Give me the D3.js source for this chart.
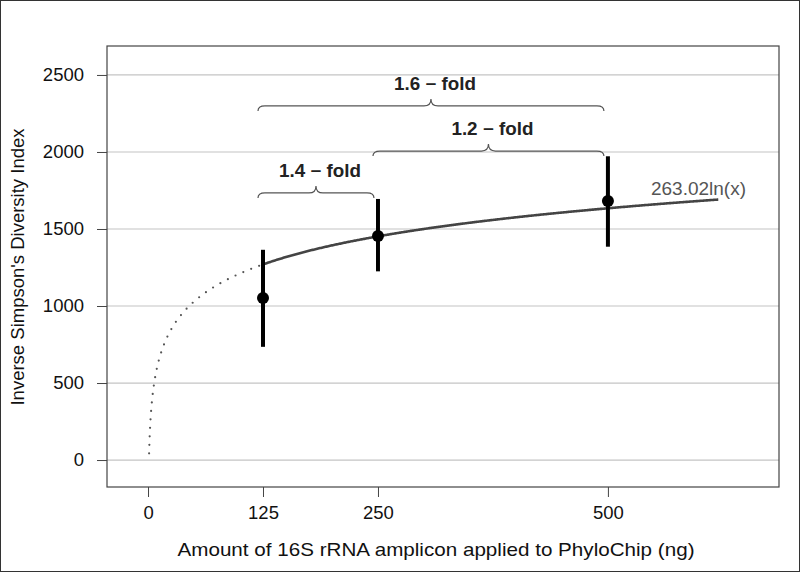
<!DOCTYPE html>
<html><head><meta charset="utf-8">
<script src="https://cdn.jsdelivr.net/npm/d3@7"></script>
<style>body{margin:0;background:#fff}text{font-family:"Liberation Sans",Arial,sans-serif}</style>
</head><body><svg id="c" width="800" height="572"></svg>
<script>
const amounts = [125, 250, 500];
const means = [1052, 1455, 1682];
const lows = [735, 1225, 1385];
const highs = [1365, 1695, 1972];
const xTicks = [0, 125, 250, 500];
const yTicks = [0, 500, 1000, 1500, 2000, 2500];
const coef = 263.02;
const braces = [
  {from:125, to:500, level:2299, label:"1.6 \u2212 fold"},
  {from:250, to:500, level:2006, label:"1.2 \u2212 fold"},
  {from:125, to:250, level:1734, label:"1.4 \u2212 fold"}
];

const svg = d3.select("#c");
svg.append("rect").attr("x",0.5).attr("y",0.5).attr("width",799).attr("height",571).attr("fill","#fff").attr("stroke","#333");
const L=107,R=779,T=46,B=487;
const x = d3.scaleLinear().domain([-44.6,686]).range([L,R]);
const y = d3.scaleLinear().domain([-175,2688]).range([B,T]);

// grid
svg.append("g").selectAll("line").data(yTicks).join("line")
  .attr("x1",L).attr("x2",R).attr("y1",d=>y(d)).attr("y2",d=>y(d))
  .attr("stroke","#c4c4c4").attr("stroke-width",1.2);

// axes
const ya = svg.append("g").attr("transform",`translate(${L},0)`)
  .call(d3.axisLeft(y).tickValues(yTicks).tickFormat(d3.format("d")).tickSize(10).tickPadding(13));
ya.select(".domain").remove();
ya.selectAll("line").attr("stroke","#444");
ya.selectAll("text").attr("font-size",18.5).attr("fill","#111").attr("font-family","Liberation Sans, Arial");
const xa = svg.append("g").attr("transform",`translate(0,${B})`)
  .call(d3.axisBottom(x).tickValues(xTicks).tickFormat(d3.format("d")).tickSize(10).tickPadding(9));
xa.select(".domain").remove();
xa.selectAll("line").attr("stroke","#444");
xa.selectAll("text").attr("font-size",18.5).attr("fill","#111").attr("font-family","Liberation Sans, Arial");

svg.append("rect").attr("x",L).attr("y",T).attr("width",R-L).attr("height",B-T)
  .attr("fill","none").attr("stroke","#444").attr("stroke-width",1.2);

// titles
svg.append("text").attr("x",436).attr("y",556).attr("text-anchor","middle")
  .attr("font-size",19).attr("textLength",517).attr("lengthAdjust","spacingAndGlyphs")
  .attr("fill","#111").text("Amount of 16S rRNA amplicon applied to PhyloChip (ng)");
svg.append("text").attr("transform","translate(24,267) rotate(-90)").attr("text-anchor","middle")
  .attr("font-size",18.5).attr("fill","#111").text("Inverse Simpson's Diversity Index");

// curve
const f = v => coef*Math.log(v);
const dotted = d3.range(1.18,125.01,0.2);
const solid = d3.range(125,621,1);
const line = d3.line().x(d=>x(d)).y(d=>y(f(d)));
svg.append("path").attr("d",line(dotted)).attr("fill","none").attr("stroke","#555")
  .attr("stroke-width",2.2).attr("stroke-linecap","round").attr("stroke-dasharray","0 8.5");
svg.append("path").attr("d",line(solid)).attr("fill","none").attr("stroke","#444").attr("stroke-width",2.6);
svg.append("text").attr("x",651).attr("y",195).attr("font-size",18).attr("textLength",95)
  .attr("lengthAdjust","spacingAndGlyphs").attr("fill","#555").text("263.02ln(x)");

// error bars & points
svg.append("g").selectAll("line").data(amounts).join("line")
  .attr("x1",d=>x(d)).attr("x2",d=>x(d)).attr("y1",(d,i)=>y(lows[i])).attr("y2",(d,i)=>y(highs[i]))
  .attr("stroke","#000").attr("stroke-width",4);
svg.append("g").selectAll("circle").data(amounts).join("circle")
  .attr("cx",d=>x(d)).attr("cy",(d,i)=>y(means[i])).attr("r",6).attr("fill","#000");

// braces
braces.forEach(b=>{
  const x1=x(b.from)-5,x2=x(b.to)-4,yy=y(b.level),m=(x1+x2)/2,h=5,r=7;
  const p=`M${x1},${yy+h} Q${x1},${yy} ${x1+r},${yy} L${m-r},${yy} Q${m},${yy} ${m},${yy-7} Q${m},${yy} ${m+r},${yy} L${x2-r},${yy} Q${x2},${yy} ${x2},${yy+h}`;
  svg.append("path").attr("d",p).attr("fill","none").attr("stroke","#555").attr("stroke-width",1.2);
  svg.append("text").attr("x",m+4).attr("y",yy-16).attr("text-anchor","middle")
    .attr("font-size",17.5).attr("font-weight","bold").attr("textLength",82)
    .attr("lengthAdjust","spacingAndGlyphs").attr("fill","#222").text(b.label);
});
</script></body></html>
